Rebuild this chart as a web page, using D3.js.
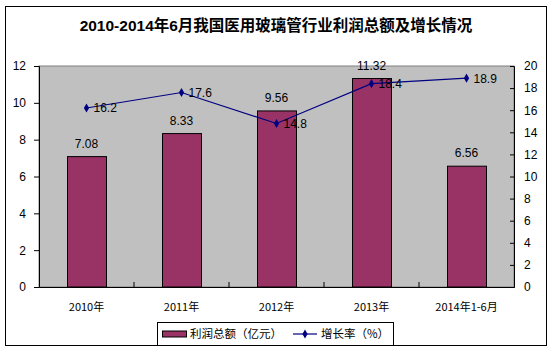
<!DOCTYPE html>
<html><head><meta charset="utf-8">
<script src="https://cdn.jsdelivr.net/npm/d3@7"></script>
<style>body{margin:0;background:#fff}svg{display:block}</style>
</head><body><svg id="c" width="556" height="350"></svg>
<script>
const categories = ["2010年","2011年","2012年","2013年","2014年1-6月"];
const profit = [7.08, 8.33, 9.56, 11.32, 6.56];
const growth = [16.2, 17.6, 14.8, 18.4, 18.9];
const leftTicks = [0,2,4,6,8,10,12];
const rightTicks = [0,2,4,6,8,10,12,14,16,18,20];

const svg = d3.select("#c");
const L = 39, R = 514, T = 66, B = 287;
const cjk = "'SimSun','Noto Sans CJK SC',sans-serif";
const lat = "'Liberation Sans',Arial,sans-serif";

svg.append("rect").attr("x",5.5).attr("y",6.5).attr("width",541).attr("height",339)
  .attr("fill","#fff").attr("stroke","#000").attr("stroke-width",1);

svg.append("text").attr("x",276).attr("y",31).attr("text-anchor","middle")
  .attr("font-family","'Liberation Sans','Noto Sans CJK SC',sans-serif").attr("font-weight","bold")
  .attr("font-size",15.5).text("2010-2014年6月我国医用玻璃管行业利润总额及增长情况");

const x = d3.scaleBand().domain(categories).range([L,R]).paddingInner(0).paddingOuter(0);
const yL = d3.scaleLinear().domain([0,12]).range([B,T]);
const yR = d3.scaleLinear().domain([0,20]).range([B,T]);

svg.append("rect").attr("x",L).attr("y",T).attr("width",R-L).attr("height",B-T)
  .attr("fill","#C0C0C0").attr("stroke","#808080").attr("stroke-width",1);

// bars
const bw = 39;
svg.selectAll("rect.bar").data(profit).join("rect").attr("class","bar")
  .attr("x",(d,i)=>x(categories[i])+x.bandwidth()/2-bw/2+0.5)
  .attr("y",d=>yL(d)).attr("width",bw).attr("height",d=>B-yL(d))
  .attr("fill","#993366").attr("stroke","#000").attr("stroke-width",1);

svg.selectAll("text.bl").data(profit).join("text").attr("class","bl")
  .attr("x",(d,i)=>x(categories[i])+x.bandwidth()/2)
  .attr("y",d=>yL(d)-9).attr("text-anchor","middle")
  .attr("font-family",lat).attr("font-size",12).text(d=>d.toFixed(2));

// axes
const axL = svg.append("g").attr("transform",`translate(${L},0)`)
  .call(d3.axisLeft(yL).tickValues(leftTicks).tickSize(5).tickPadding(8));
const axR = svg.append("g").attr("transform",`translate(${R},0)`)
  .call(d3.axisRight(yR).tickValues(rightTicks).tickSize(-4).tickPadding(10));
const axB = svg.append("g").attr("transform",`translate(0,${B})`)
  .call(d3.axisBottom(x).tickSize(0).tickPadding(16));
[axL,axR,axB].forEach(g=>{
  g.select(".domain").attr("stroke","#000");
  g.selectAll(".tick line").attr("stroke","#000");
  g.selectAll("text").attr("fill","#000").attr("font-family",lat).attr("font-size",12);
});
axB.selectAll("text").attr("font-family",cjk).attr("font-size",11);
// category separator ticks (upward)
svg.selectAll("line.sep").data(categories.slice(1)).join("line").attr("class","sep")
  .attr("x1",d=>x(d)).attr("x2",d=>x(d)).attr("y1",B).attr("y2",B-5).attr("stroke","#000");

// line
const pts = growth.map((g,i)=>[x(categories[i])+x.bandwidth()/2, yR(g)]);
svg.append("path").attr("d",d3.line()(pts)).attr("fill","none").attr("stroke","#000080").attr("stroke-width",1.2);
svg.selectAll("path.mk").data(pts).join("path").attr("class","mk")
  .attr("transform",d=>`translate(${d[0]},${d[1]})`)
  .attr("d",d3.symbol(d3.symbolDiamond,24)).attr("fill","#000080");
svg.selectAll("text.gl").data(growth).join("text").attr("class","gl")
  .attr("x",(d,i)=>pts[i][0]+7).attr("y",(d,i)=>pts[i][1]+4.5)
  .attr("font-family",lat).attr("font-size",12).text(d=>d.toFixed(1));

// legend
const lg = svg.append("g");
lg.append("rect").attr("x",157.5).attr("y",322.5).attr("width",236).attr("height",23)
  .attr("fill","#fff").attr("stroke","#000");
lg.append("rect").attr("x",162.5).attr("y",331).attr("width",24).attr("height",6)
  .attr("fill","#993366").attr("stroke","#000");
lg.append("text").attr("x",190).attr("y",338).attr("font-family",cjk).attr("font-size",11.5).text("利润总额（亿元）");
lg.append("line").attr("x1",293).attr("x2",317).attr("y1",334).attr("y2",334).attr("stroke","#000080").attr("stroke-width",1.2);
lg.append("path").attr("transform","translate(305,334)").attr("d",d3.symbol(d3.symbolDiamond,24)).attr("fill","#000080");
lg.append("text").attr("x",321).attr("y",338).attr("font-family",cjk).attr("font-size",11.5).text("增长率（%）");
</script></body></html>
